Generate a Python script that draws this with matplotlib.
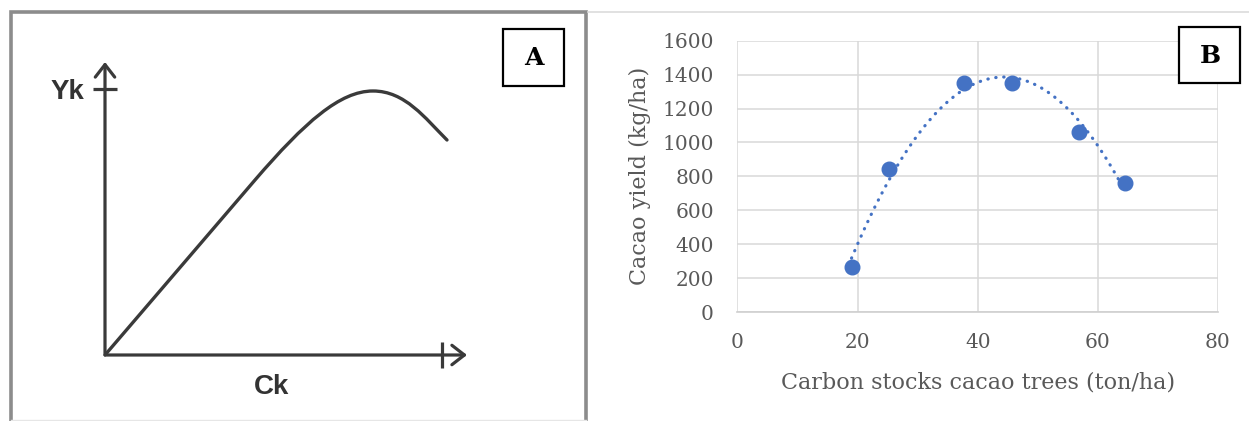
import numpy as np
import matplotlib
matplotlib.use("Agg")
import matplotlib.pyplot as plt
from matplotlib.patches import Rectangle, PathPatch
from matplotlib.path import Path

# ---------------- data ----------------
# Panel A: schematic yield curve, as path nodes (arbitrary units)
# straight rise, then bend to the peak, then decline
curve_nodes = [(0, 0), (150, 175), (200, 233), (235, 264), (268, 264),
               (300, 264), (320, 237), (342, 215)]
curve_codes = [Path.MOVETO, Path.LINETO, Path.CURVE4, Path.CURVE4, Path.CURVE4,
               Path.CURVE4, Path.CURVE4, Path.CURVE4]
yk_level = 266
ck_end = 337

# Panel B: carbon stocks vs cacao yield
carbon = [19.0, 25.2, 37.7, 45.7, 56.9, 64.5]
yield_ = [263, 842, 1349, 1349, 1064, 760]
x_ticks = [0, 20, 40, 60, 80]
y_ticks = [0, 200, 400, 600, 800, 1000, 1200, 1400, 1600]

W, H = 1249, 421
fig = plt.figure(figsize=(W / 100, H / 100), dpi=100)

def fx(px):
    return px / W

def fy(py):
    return 1 - py / H

# ---------------- Panel A ----------------
dark = "#3a3a3a"
ox, oy = 105, 355
axA = fig.add_axes([fx(ox), fy(oy), 380 / W, 300 / H])
axA.set_xlim(0, 380)
axA.set_ylim(0, 300)
axA.patch.set_alpha(0)
for s in axA.spines.values():
    s.set_visible(False)
arrow_style = "->,head_length=0.9,head_width=0.7"
axA.annotate("", xy=(0, 293), xytext=(0, 0),
             arrowprops=dict(arrowstyle=arrow_style, lw=2.3, color=dark,
                             shrinkA=0, shrinkB=0))
axA.annotate("", xy=(362, 0), xytext=(0, 0),
             arrowprops=dict(arrowstyle=arrow_style, lw=2.3, color=dark,
                             shrinkA=0, shrinkB=0))
axA.set_yticks([yk_level])
axA.set_yticklabels(["Yk"], fontfamily="Liberation Sans", fontweight="bold",
                    fontsize=20, color="#333333")
axA.set_xticks([ck_end])
axA.set_xticklabels([""])
axA.tick_params(axis="y", direction="inout", length=17, width=2.3, color=dark, pad=6)
axA.tick_params(axis="x", direction="inout", length=19, width=2.3, color=dark)
axA.add_patch(PathPatch(Path(curve_nodes, curve_codes), facecolor="none",
                        edgecolor=dark, lw=2.4, capstyle="round", joinstyle="round"))
axA.text(167, -32, "Ck", ha="center", va="center", fontfamily="Liberation Sans",
         fontweight="bold", fontsize=20, color="#333333")

# ---------------- Panel B ----------------
blue = "#4472C4"
grey_txt = "#595959"
x0, x1, y0, y1 = 737.4, 1218.0, 40.7, 312.0
axB = fig.add_axes([fx(x0), fy(y1), (x1 - x0) / W, (y1 - y0) / H])
axB.set_xlim(0, 80)
axB.set_ylim(0, 1600)
axB.set_xticks(x_ticks)
axB.set_yticks(y_ticks)
axB.grid(True, color="#d9d9d9", lw=1.1)
axB.set_axisbelow(True)
for k, s in axB.spines.items():
    s.set_visible(k == "bottom")
axB.spines["bottom"].set_color("#cfcfcf")
axB.spines["bottom"].set_linewidth(1.2)
axB.tick_params(length=0, labelsize=14.5, labelcolor=grey_txt)
axB.tick_params(axis="y", pad=17)
axB.tick_params(axis="x", pad=15)
for lab in axB.get_xticklabels() + axB.get_yticklabels():
    lab.set_fontfamily("DejaVu Serif")

xa = np.array(carbon)
ya = np.array(yield_)
coef = np.polyfit(xa, ya, 2)
xs = np.linspace(xa.min(), xa.max(), 300)
axB.plot(xs, np.polyval(coef, xs), color=blue, lw=2.3,
         linestyle=(0, (0.1, 2.4)), dash_capstyle="round", zorder=2)
axB.plot(xa, ya, "o", color=blue, ms=10.5, zorder=3)

axB.set_xlabel("Carbon stocks cacao trees (ton/ha)", fontfamily="DejaVu Serif",
               fontsize=16, color=grey_txt, va="center")
axB.xaxis.set_label_coords(0.5, -(382 - y1) / (y1 - y0))
axB.set_ylabel("Cacao yield (kg/ha)", fontfamily="DejaVu Serif",
               fontsize=16, color=grey_txt, va="center")
axB.yaxis.set_label_coords(-(x0 - 640) / (x1 - x0), 0.5)

# ---------------- overlay: frames and panel labels ----------------
ov = fig.add_axes([0, 0, 1, 1], zorder=10)
ov.set_xlim(0, W)
ov.set_ylim(H, 0)
ov.axis("off")
ov.patch.set_alpha(0)
frame = "#8c8c8c"
ov.plot([11, 11, 586, 586], [H + 5, 12, 12, H + 5], color=frame, lw=2.6,
        solid_joinstyle="miter")
ov.plot([588, W], [11.5, 11.5], color="#dcdcdc", lw=1.2)
ov.plot([11, 586], [419.5, 419.5], color="#e6e6e6", lw=1)

for (bx0, by0, bx1, by1, lab) in [(503.5, 29, 564, 85.5, "A"),
                                   (1179.5, 27, 1240.5, 82.5, "B")]:
    ov.add_patch(Rectangle((bx0, by0), bx1 - bx0, by1 - by0, facecolor="white",
                           edgecolor="black", lw=1.6))
    ov.text((bx0 + bx1) / 2, (by0 + by1) / 2 + 1, lab, ha="center", va="center",
            fontfamily="DejaVu Serif", fontweight="bold", fontsize=18,
            color="black")

fig.savefig("out.png", dpi=100, facecolor="white")
